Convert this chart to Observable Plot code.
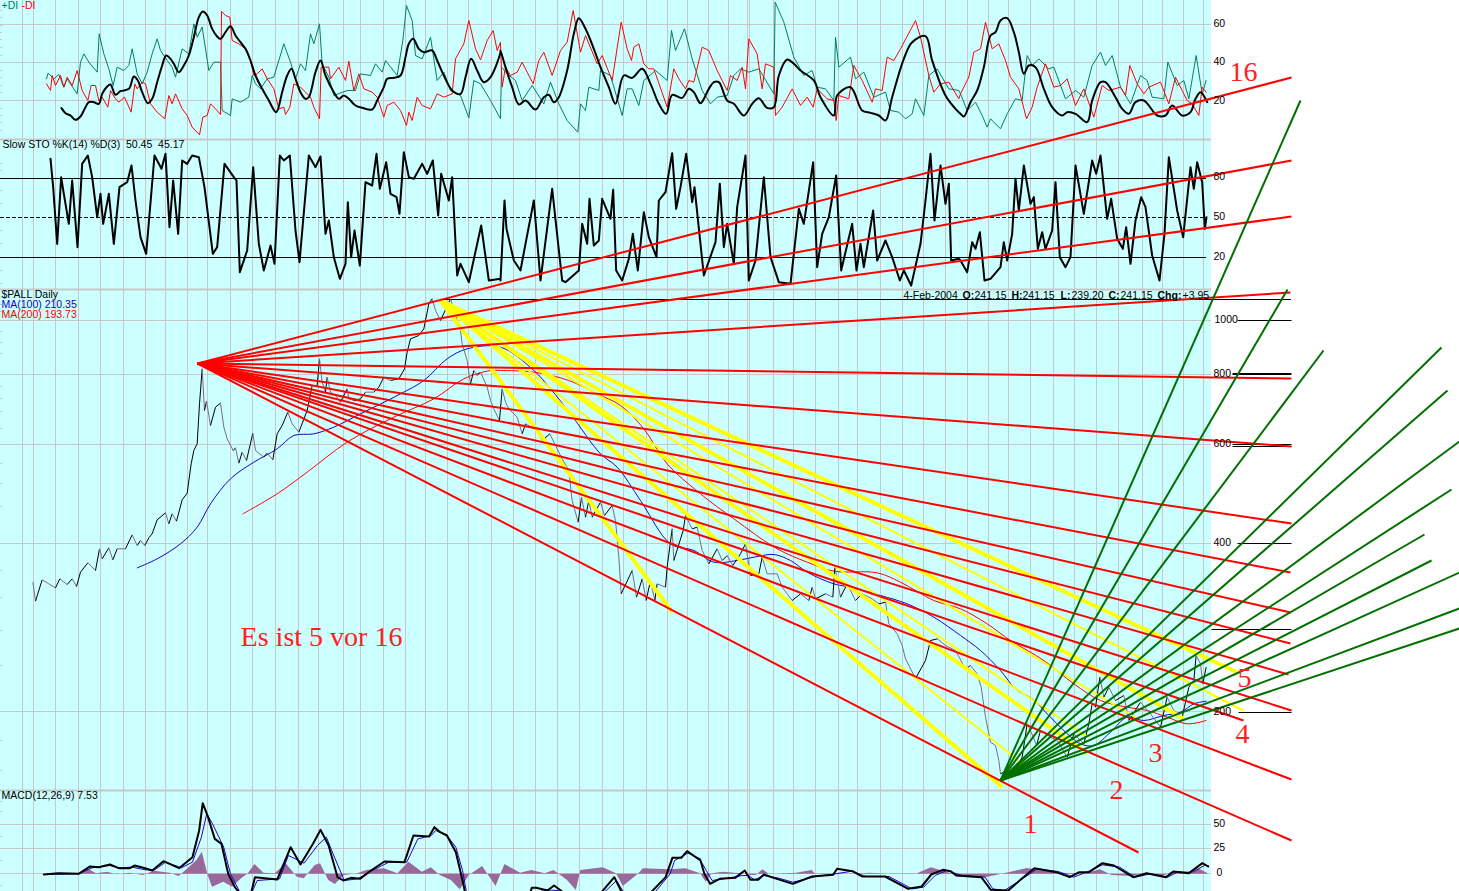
<!DOCTYPE html>
<html>
<head>
<meta charset="utf-8">
<script src="https://cdn.jsdelivr.net/npm/d3@7"></script>
<script src="https://cdn.jsdelivr.net/npm/@observablehq/plot@0.6"></script>
<style>html,body{margin:0;padding:0;background:#fff;overflow:hidden}</style>
</head>
<body>
<div id="chart"></div>
<script>
// Readings are made on 3x crops of the picture, grouped by crop.
const tile = (x0, y0, pts, sx = 3, sy = 3) => pts.map(([x, y]) => [x0 + x / sx, y0 + y / sy]);
const before = (pts, limit) => pts.filter(([x]) => x < limit);

const gridX = [22,33,55,78,100,123,145,165,187,207,230,252,275,298,318,343,360,383,405,425,447,468,491,513,535,557,579,602,623,646,667,687,708,728,747,749,773,793,815,838,857,880,902,923,945,967,988,1008,1030,1053,1074,1096,1118,1142,1162,1183,1203];
const gridY = [24,62,100,320,374,444,543,711,824,848,873];
const panelSeparators = [139,289,790];
const stoLevels = [178,257];
const stoMid = [217];
const priceTicks = [[1237,320],[1232,374],[1232,373],[1232,444],[1232,446],[1237,543],[1211,629],[1238,712]];
const leftMinorTicks = [10,17,25,32,39,47,55,62,70,77,85,92,100,108,115,122,130,163,170,178,190,203,217,230,243,257,270,283,304,311,320,331,342,353,374,386,398,411,428,444,463,483,506,543,570,597,630,665,711,740,770,801,811,824,836,848,860,873,885];

// ---- DI panel -----------------------------------------------------------
const adx1 = [[183,323],[195,338],[210,345],[225,358],[240,348],[255,320],[265,305],[280,305],[295,310],[305,280],[320,258],[330,252],[345,283],[360,272],[385,265],[400,228],[412,240],[425,275],[442,308],[455,295],[470,245],[485,195],[497,165],[510,175],[520,190],[535,215],[550,195],[565,165],[580,110],[595,50],[607,33],[620,45],[635,85],[650,108],[660,115],[675,95],[690,77],[705,105],[720,125],[735,145],[750,180],[765,225],[785,265],[805,300],[827,335],[845,275],[860,225],[873,205],[885,235],[900,275],[915,295],[925,290],[945,215],[960,180],[975,225],[1000,275],[1015,295],[1030,285],[1045,295],[1065,315],[1085,322],[1115,327],[1130,300],[1150,260],[1160,235],[1180,232],[1200,225],[1215,170],[1225,130],[1238,115],[1255,145],[1270,155],[1295,150],[1310,180],[1330,225],[1355,270],[1380,280],[1395,230],[1412,175],[1430,210],[1450,245],[1470,230],[1500,155]];
const adx2 = [[0,150],[15,200],[35,260],[55,312],[75,300],[105,327],[130,290],[145,283],[160,305],[175,290],[200,210],[220,100],[235,53],[255,85],[280,145],[300,200],[325,260],[345,310],[370,225],[395,232],[425,205],[450,250],[475,310],[497,340],[515,283],[545,292],[565,265],[580,275],[600,308],[625,265],[640,245],[655,245],[680,300],[700,310],[730,345],[755,310],[775,293],[800,322],[820,320],[835,225],[860,177],[880,190],[900,210],[940,240],[960,290],[1000,345],[1010,285],[1050,260],[1085,330],[1110,337],[1135,345],[1155,360],[1175,290],[1210,175],[1235,125],[1275,107],[1295,180],[1335,285],[1365,325]];
const adx3 = [[0,340],[10,348],[30,305],[50,270],[70,200],[90,105],[105,95],[120,60],[140,53],[160,95],[175,155],[190,220],[205,195],[225,200],[250,265],[275,320],[305,345],[320,335],[345,340],[380,365],[395,300],[420,245],[435,245],[465,290],[485,325],[505,340],[525,305],[550,300],[590,345],[615,345],[635,315],[665,345],[690,335],[705,295],[720,275],[740,305]];

const minusDi1 = [[138,250],[150,270],[155,225],[165,255],[180,225],[190,260],[200,230],[215,255],[230,210],[245,270],[262,300],[272,255],[285,255],[295,300],[305,290],[322,320],[330,270],[345,295],[355,305],[372,290],[392,335],[403,250],[410,265],[425,245],[435,250],[450,310],[470,335],[493,355],[505,285],[515,310],[525,280],[545,325],[560,345],[575,380],[597,403],[607,350],[620,345],[630,310],[645,325],[660,342],[663,32],[675,45],[688,50],[695,120],[715,130],[735,145],[750,180],[760,225],[770,220],[785,205],[800,235],[820,265],[835,325],[850,320],[855,342],[868,320],[880,250],[900,260],[915,275],[930,290],[940,320],[957,355],[962,200],[985,200],[990,235],[1015,200],[1035,240],[1045,182],[1060,270],[1075,220],[1090,265],[1115,275],[1130,290],[1150,350],[1160,315],[1180,305],[1200,330],[1218,375],[1225,335],[1235,360],[1250,290],[1265,315],[1290,325],[1310,280],[1330,290],[1355,280],[1365,175],[1390,130],[1405,60],[1425,145],[1440,178],[1460,120],[1478,90],[1490,150],[1500,125]];
const minusDi2 = [[0,130],[5,260],[15,200],[30,225],[50,215],[65,185],[80,215],[98,250],[115,180],[130,155],[155,225],[180,150],[200,125],[218,30],[240,155],[255,105],[290,190],[305,165],[335,240],[362,65],[380,145],[393,180],[400,140],[415,130],[430,190],[445,205],[460,205],[500,320],[520,205],[535,235],[555,265],[565,240],[580,245],[605,140],[625,150],[650,210],[680,270],[690,225],[710,240],[725,200],[735,265],[745,115],[770,160],[785,265],[795,190],[820,200],[825,345],[845,320],[875,265],[900,315],[920,290],[938,320],[950,265],[980,295],[1000,300],[1007,360],[1015,285],[1045,295],[1060,195],[1085,240],[1115,305],[1125,265],[1145,270],[1160,170],[1180,180],[1200,145],[1245,60],[1260,110],[1285,225],[1300,275],[1320,250],[1345,245],[1375,295]];
const minusDi3 = [[0,280],[25,230],[40,155],[60,145],[75,65],[95,145],[115,130],[135,180],[150,230],[175,265],[198,355],[215,320],[230,260],[255,190],[280,260],[300,255],[320,235],[345,315],[370,265],[400,350],[425,255],[445,270],[480,260],[495,285],[508,195],[530,250],[550,280],[565,260],[600,245],[625,310],[645,230],[665,270],[680,300],[695,310],[715,345],[725,260],[737,275]];

const plusDi1 = [[138,235],[143,218],[160,235],[175,222],[190,260],[200,235],[230,280],[240,185],[250,160],[265,185],[290,215],[296,100],[310,160],[325,205],[338,255],[350,200],[370,210],[385,195],[395,145],[410,220],[425,250],[440,215],[455,160],[470,115],[480,150],[500,180],[515,200],[525,230],[545,145],[565,160],[580,70],[590,110],[605,80],[625,210],[640,185],[660,185],[665,330],[690,345],[695,295],[720,305],[745,290],[755,225],[765,250],[780,265],[800,235],[820,230],[850,130],[870,185],[885,235],[900,190],[915,210],[930,100],[940,130],[957,70],[965,190],[985,230],[1000,285],[1040,270],[1065,270],[1080,220],[1110,225],[1125,190],[1145,215],[1155,180],[1190,225],[1207,120],[1218,15],[1235,60],[1245,165],[1265,175],[1290,110],[1310,240],[1330,215],[1350,270],[1380,285],[1405,352],[1420,240],[1440,250],[1470,300],[1500,355]];
const plusDi2 = [[0,350],[3,200],[20,220],[45,240],[65,300],[95,255],[130,310],[150,245],[175,310],[200,360],[232,395],[240,310],[255,330],[265,260],[295,270],[300,210],[330,225],[365,345],[380,265],[395,265],[415,315],[430,240],[465,210],[500,240],[513,90],[525,150],[552,85],[575,175],[605,270],[630,310],[650,290],[680,285],[700,225],[720,205],[745,215],[775,205],[820,280],[824,5],[850,65],[880,170],[910,225],[935,210],[950,260],[975,265],[1000,300],[1005,110],[1015,200],[1050,170],[1065,235],[1090,215],[1120,290],[1155,275],[1170,330],[1195,335],[1215,355],[1235,340],[1245,295],[1270,345],[1285,225],[1310,205],[1345,265],[1375,270]];
const plusDi3 = [[0,280],[20,330],[45,305],[65,345],[80,380],[90,355],[120,385],[140,340],[165,295],[185,300],[200,165],[215,195],[235,175],[265,205],[280,200],[315,295],[345,270],[370,290],[395,195],[420,155],[435,195],[455,165],[480,260],[510,310],[540,225],[560,240],[575,290],[610,295],[622,185],[650,255],[670,240],[685,295],[707,165],[725,280],[737,240]];

// ---- Stochastic panel ---------------------------------------------------
const sto1 = [[150,475],[158,560],[170,730],[182,530],[190,580],[205,670],[215,540],[231,740],[245,490],[262,465],[275,530],[290,650],[300,580],[308,670],[325,580],[340,730],[357,560],[380,545],[393,495],[405,600],[420,710],[437,760],[462,465],[483,505],[495,460],[507,680],[518,540],[533,700],[545,480],[560,490],[575,465],[595,470],[612,560],[637,760],[650,740],[672,490],[700,530],[708,540],[718,815],[740,750],[758,500],[775,730],[790,810],[810,735],[822,790],[838,465],[850,480],[868,465],[885,690],[897,785],[925,465],[945,500],[960,468],[975,700],[985,660],[1000,770],[1018,835],[1035,790],[1042,605],[1052,770],[1062,690],[1078,795],[1095,545],[1115,555],[1128,460],[1138,565],[1157,485],[1170,580],[1188,590],[1197,640],[1210,455],[1225,530],[1240,535],[1265,490],[1280,520],[1297,480],[1313,645],[1322,520],[1345,600],[1355,530],[1370,825],[1380,790],[1405,845],[1442,675],[1465,840],[1500,835]];
const sto2 = [[0,840],[12,600],[18,685],[40,780],[60,810],[75,730],[100,600],[120,840],[155,565],[185,840],[195,845],[235,810],[245,670],[260,730],[267,595],[280,735],[295,720],[305,595],[330,655],[338,568],[347,810],[365,840],[385,775],[397,700],[412,810],[430,635],[445,710],[468,770],[475,600],[495,575],[515,458],[527,625],[540,560],[557,460],[575,605],[582,560],[610,825],[645,725],[658,550],[670,740],[680,670],[700,790],[710,620],[735,465],[745,840],[765,780],[790,530],[810,770],[835,845],[870,850],[895,625],[910,670],[938,485],[950,800],[965,700],[985,650],[1007,525],[1022,810],[1055,670],[1068,810],[1080,730],[1090,800],[1118,630],[1130,780],[1155,720],[1175,770],[1198,840],[1210,810],[1232,855],[1260,730],[1275,600],[1290,460],[1302,660],[1320,495],[1335,610],[1345,550],[1352,780],[1375,775]];
const sto3 = [[0,780],[20,815],[35,725],[45,745],[58,695],[72,840],[90,835],[120,800],[130,725],[140,780],[155,700],[165,535],[175,630],[190,495],[210,610],[220,590],[232,745],[245,695],[255,745],[275,690],[285,545],[298,770],[315,800],[330,770],[345,495],[370,640],[395,480],[407,520],[420,465],[440,655],[452,595],[470,715],[487,745],[497,680],[510,790],[525,660],[542,590],[555,620],[575,765],[597,840],[612,700],[625,470],[650,630],[668,710],[690,500],[700,565],[710,485],[725,545],[733,685],[738,650]];

// ---- Price panel --------------------------------------------------------
const price1 = [[97,755],[105,812],[125,748],[145,760],[165,772],[178,745],[200,762],[215,745],[228,768],[240,725],[262,697],[285,720],[297,655],[305,685],[325,652],[337,688],[350,655],[375,655],[395,613],[410,645],[420,630],[433,645],[445,622],[455,610],[470,568],[495,547],[505,580],[515,550],[528,572],[545,508],[560,488],[572,400],[580,360],[590,340],[597,220],[605,115],[612,240],[618,212],[630,285],[645,230],[660,218],[670,290],[680,325],[698,360],[705,352],[715,398],[725,365],[738,390],[757,308],[765,360],[790,380],[800,368],[817,388],[830,310],[845,285],[862,245],[875,280],[895,305],[920,240],[935,165],[950,165],[957,85],[965,155],[975,185],[980,140],[990,185],[1005,195],[1020,215],[1040,175],[1045,205],[1060,210],[1080,205],[1095,185],[1120,185],[1135,170],[1150,140],[1170,150],[1195,145],[1212,115],[1220,65],[1230,25],[1255,15],[1270,-5],[1285,-80],[1295,-95],[1305,-60],[1320,-30],[1350,-95],[1380,0],[1385,40],[1400,90],[1410,160],[1420,120],[1430,135],[1440,125],[1460,170],[1470,210],[1480,235],[1497,270]];
const price2 = [[5,175],[15,215],[25,235],[50,260],[65,310],[75,280],[110,300],[125,330],[148,310],[165,345],[185,385],[205,420],[215,510],[233,575],[243,500],[255,560],[265,510],[275,560],[300,515],[312,555],[335,525],[345,570],[355,680],[362,790],[395,720],[408,800],[425,745],[437,810],[450,750],[463,810],[470,760],[495,770],[500,710],[515,595],[520,690],[548,600],[555,555],[575,595],[590,590],[605,660],[625,700],[650,655],[665,690],[680,675],[697,705],[720,670],[735,640],[750,735],[775,730],[785,680],[800,730],[830,730],[845,770],[875,810],[900,790],[925,810],[935,770],[945,805],[975,790],[997,800],[1003,710],[1020,800],[1040,760],[1065,810],[1085,790],[1115,805],[1135,820],[1155,815],[1165,880],[1190,910],[1205,945],[1215,985],[1245,1044],[1275,990],[1290,930],[1311,925],[1335,945],[1365,960]];
const price3 = [[15,325],[30,315],[50,340],[62,380],[75,470],[90,545],[105,555],[115,600],[120,640],[130,635],[150,640],[170,620],[185,590],[200,490],[210,510],[228,555],[240,510],[270,530],[290,540],[320,590],[340,520],[370,550],[385,490],[395,430],[405,440],[418,350],[430,410],[445,380],[465,420],[490,405],[505,480],[540,425],[570,460],[600,500],[620,410],[640,450],[665,470],[685,380],[700,360],[707,285],[720,310],[727,370],[737,320]];

const ma100a = [[410,712],[470,685],[540,640],[590,590],[630,520],[690,445],[760,395],[830,355],[880,315],[940,310],[1000,290],[1080,250],[1200,190],[1270,150],[1340,85],[1400,55],[1500,50]];
const ma100b = [[100,120],[150,175],[210,250],[300,370],[350,410],[420,510],[510,640],[580,660],[640,695],[710,690],[770,678],[820,672],[870,690],[920,725],[1000,760],[1050,770],[1140,795],[1220,820],[1300,860]];
const ma100c = [[0,225],[60,270],[120,330],[165,385],[215,415],[265,465],[310,510],[360,550],[400,555],[450,515],[500,470],[550,480],[610,465],[660,455],[700,430],[737,422]];

const ma200a = [[727,550],[830,490],[920,425],[1040,335],[1180,260],[1300,205],[1390,145],[1470,120],[1500,120]];
const ma200b = [[100,125],[205,150],[290,190],[360,225],[430,295],[500,400],[600,490],[700,565],[830,655],[920,695],[1000,722],[1130,727],[1200,755],[1300,810]];
const ma200c = [[0,145],[80,190],[150,240],[250,300],[340,370],[420,420],[500,440],[560,450],[620,470],[680,490],[737,480]];

// ---- Hand-drawn fans ----------------------------------------------------
const redApex = [197,363];
const redEnds = [[1291,77],[1291,160],[1291,216],[1290,292],[1291,378],[1291,446],[1291,523],[1290,572],[1290,612],[1290,643],[1288,674],[1291,710],[1243,720],[1291,779],[1291,840],[1138,852]];
const yellowApex = [440,300];
const yellowThickEnds = [[672,612],[1002,787],[1087,753],[1183,718],[1237,672]];
const yellowThinEnds = [[1022,763],[1088,737],[1135,717],[1243,710]];
const greenApex = [1000,780];
const greenEnds = [[1300,100],[1287,289],[1323,350],[1441,347],[1447,390],[1459,441],[1451,489],[1424,534],[1431,560],[1459,572],[1459,608],[1459,628]];

// ---- MACD panel ---------------------------------------------------------
const macd1 = [[97,282],[130,278],[175,280],[200,258],[220,260],[245,252],[265,263],[290,263],[300,255],[320,262],[340,270],[365,242],[400,263],[430,230],[445,150],[453,68],[465,110],[480,175],[495,190],[510,280],[525,320],[540,345],[560,345],[570,290],[620,297],[650,200],[672,252],[700,190],[717,148],[735,195],[755,290],[768,300],[785,292],[805,295],[830,270],[860,243],[905,245],[925,165],[960,168],[972,140],[985,155],[1000,165],[1020,215],[1035,300],[1042,345],[1185,345],[1190,322],[1200,322],[1225,330],[1240,315],[1270,345],[1340,345],[1375,290],[1395,345],[1450,345],[1490,290],[1505,232],[1525,232],[1538,212],[1568,240]];
const macd2 = [[0,240],[10,280],[25,310],[50,295],[90,292],[115,270],[130,298],[150,298],[165,282],[190,292],[240,310],[290,288],[345,283],[355,265],[395,272],[420,288],[480,288],[540,325],[575,318],[600,282],[630,268],[650,272],[665,285],[730,290],[755,328],[800,330],[835,295],[868,263],[925,275],[960,290],[985,275],[1010,275],[1045,248],[1075,255],[1125,290],[1160,278],[1210,290],[1230,273],[1270,278],[1305,248],[1320,258]];
const signal1 = [[97,282],[175,280],[205,262],[245,255],[265,262],[295,260],[325,268],[345,268],[370,245],[405,262],[430,245],[450,170],[462,100],[475,130],[500,200],[515,280],[540,345],[560,345],[575,300],[625,295],[645,225],[680,248],[710,195],[730,170],[745,220],[770,300],[800,295],[840,265],[870,245],[910,245],[935,175],[965,165],[975,150],[1000,165],[1020,200],[1035,270],[1045,345],[1200,345],[1215,328],[1250,330],[1275,345],[1345,345],[1380,300],[1400,345],[1460,345],[1500,280],[1510,240],[1540,218],[1568,235]];
const signal2 = [[0,240],[15,270],[30,300],[60,295],[110,285],[125,285],[140,298],[165,285],[200,292],[240,305],[300,288],[350,280],[395,272],[430,288],[490,288],[550,325],[580,320],[610,285],[640,270],[680,285],[740,290],[760,325],[790,330],[850,285],[875,265],[930,273],[970,290],[1010,272],[1045,253],[1090,260],[1130,290],[1170,280],[1215,290],[1240,275],[1280,275],[1310,255],[1320,255]];
const hist1 = [[180,280],[195,265],[215,280],[240,275],[260,283],[290,278],[320,285],[345,272],[380,278],[400,288],[420,265],[440,240],[452,215],[465,285],[475,320],[500,305],[520,320],[540,295],[555,280],[570,252],[590,278],[615,280],[640,250],[665,290],[680,295],[705,255],[717,250],[735,300],[750,312],[770,285],[800,280],[820,270],[860,265],[890,280],[915,245],[945,275],[965,262],[985,285],[1010,300],[1030,328],[1050,285],[1080,258],[1110,318],[1130,252],[1165,278],[1190,270],[1220,280],[1240,270],[1270,300],[1290,330],[1300,270],[1350,262],[1380,280],[1395,318],[1430,280],[1440,265],[1500,268],[1535,265],[1568,280]];
const hist2 = [[0,280],[15,305],[30,280],[60,275],[90,278],[110,280],[130,285],[145,285],[162,268],[180,282],[250,278],[290,270],[300,282],[400,282],[440,278],[500,282],[560,282],[600,262],[640,275],[680,290],[740,292],[790,280],[850,264],[870,268],[930,278],[1000,280],[1040,268],[1070,285],[1120,288],[1160,278],[1200,290],[1230,272],[1280,278],[1295,265],[1320,280]];
const macdZero = 873.7;

// ---- Text ---------------------------------------------------------------
const plainLabels = [
  {x:1,y:5,text:"+DI",fill:"#008060"},{x:21,y:5,text:"-DI",fill:"#ff0000"},
  {x:2,y:144,text:"Slow STO %K(14) %D(3)  50.45  45.17",fill:"#000"},
  {x:1,y:294,text:"$PALL Daily",fill:"#000"},
  {x:1,y:304,text:"MA(100) 210.35",fill:"#2000d0"},
  {x:1,y:314,text:"MA(200) 193.73",fill:"#ff0000"},
  {x:1,y:795,text:"MACD(12,26,9) 7.53",fill:"#000"},
  {x:903,y:295,text:"4-Feb-2004",fill:"#000"},
  {x:974,y:295,text:"241.15",fill:"#000"},{x:1022,y:295,text:"241.15",fill:"#000"},
  {x:1071,y:295,text:"239.20",fill:"#000"},{x:1120,y:295,text:"241.15",fill:"#000"},
  {x:1182,y:295,text:"+3.95",fill:"#000"}
];
const boldLabels = [
  {x:962,y:295,text:"O:"},{x:1011,y:295,text:"H:"},{x:1060,y:295,text:"L:"},{x:1108,y:295,text:"C:"},{x:1157,y:295,text:"Chg:"}
];
const axisLabels = [
  {x:1213,y:23,text:"60"},{x:1213,y:61,text:"40"},{x:1213,y:100,text:"20"},
  {x:1213,y:176,text:"80"},{x:1213,y:216,text:"50"},{x:1213,y:256,text:"20"},
  {x:1214,y:319,text:"1000"},{x:1213,y:373,text:"800"},{x:1213,y:443,text:"600"},{x:1213,y:542,text:"400"},{x:1213,y:711,text:"200"},
  {x:1213,y:823,text:"50"},{x:1213,y:847,text:"25"},{x:1216,y:872,text:"0"}
];
const scriptLabels = [
  {x:321,y:637,text:"Es ist 5 vor 16"},
  {x:1243,y:72,text:"16"},{x:1030,y:824,text:"1"},{x:1116,y:790,text:"2"},
  {x:1155,y:753,text:"3"},{x:1242,y:734,text:"4"},{x:1244,y:678,text:"5"}
];

// ---- Assemble -----------------------------------------------------------
const adx = [...tile(0,0,adx1),...tile(500,0,adx2),...tile(960,0,adx3)];
const minusDi = [...tile(0,0,minusDi1),...tile(500,0,minusDi2),...tile(960,0,minusDi3)];
const plusDi = [...tile(0,0,plusDi1),...tile(500,0,plusDi2),...tile(960,0,plusDi3)];
const sto = [...tile(0,0,sto1),...tile(500,0,sto2),...tile(960,0,sto3)];
const price = [...tile(0,330,price1),...tile(500,330,price2),...tile(960,560,price3)];
const ma100 = [...tile(0,330,ma100a),...tile(500,330,ma100b),...tile(960,560,ma100c)];
const ma200 = [...tile(0,330,ma200a),...tile(500,330,ma200b),...tile(960,560,ma200c)];
const macd = [...tile(0,780,macd1,2.24),...tile(700,780,macd2,2.6)];
const signal = [...tile(0,780,signal1,2.24),...tile(700,780,signal2,2.6)];
const hist = [...tile(0,780,hist1,2.24),...tile(700,780,hist2,2.6)];
const priceSegs = price.slice(1).map((p,i)=>({a:price[i],b:p,up:p[1]<price[i][1]}));
const fan = (apex, ends, opts) => Plot.link(ends,{x1:()=>apex[0],y1:()=>apex[1],x2:d=>d[0],y2:d=>d[1],...opts});
const FONT = "'Liberation Sans',Arial,sans-serif";
const grid = "#c8c8c8";

const chart = Plot.plot({
  width:1459,height:891,margin:0,
  x:{domain:[0,1459],axis:null},
  y:{domain:[891,0],axis:null},
  style:{background:"#fff",fontFamily:FONT},
  marks:[
    Plot.rect([{}],{x1:()=>0,x2:()=>1211,y1:()=>0,y2:()=>891,fill:"#ccffff"}),
    Plot.ruleX(gridX,{y1:0,y2:891,stroke:grid,strokeWidth:1}),
    Plot.ruleY(gridY,{x1:0,x2:1211,stroke:grid,strokeWidth:1}),
    Plot.ruleY(panelSeparators,{x1:0,x2:1211,stroke:grid,strokeWidth:2}),
    Plot.ruleY(leftMinorTicks,{x1:0,x2:2,stroke:grid,strokeWidth:1}),
    Plot.ruleY(stoLevels,{x1:0,x2:1206,stroke:"#000",strokeWidth:1}),
    Plot.ruleY(stoMid,{x1:0,x2:1206,stroke:"#000",strokeWidth:1,strokeDasharray:"4,2"}),
    Plot.ruleY([299],{x1:440,x2:1291,stroke:"#000",strokeWidth:1}),
    Plot.link(priceTicks,{x1:d=>d[0],x2:()=>1291,y1:d=>d[1],y2:d=>d[1],stroke:"#000",strokeWidth:1}),

    Plot.line(plusDi,{stroke:"#008060",strokeWidth:1}),
    Plot.line(minusDi,{stroke:"#ff0000",strokeWidth:1}),
    Plot.line(adx,{stroke:"#000",strokeWidth:2,curve:"catmull-rom"}),
    Plot.line(sto,{stroke:"#000",strokeWidth:2}),

    Plot.line(ma100,{stroke:"#2000d0",strokeWidth:1,curve:"catmull-rom"}),
    Plot.line(ma200,{stroke:"#ff0000",strokeWidth:1,curve:"catmull-rom"}),
    Plot.link(priceSegs,{x1:d=>d.a[0],y1:d=>d.a[1],x2:d=>d.b[0],y2:d=>d.b[1],stroke:d=>d.up?"#000":"#80688c",strokeWidth:1}),

    Plot.areaY(hist,{x:d=>d[0],y1:()=>macdZero,y2:d=>d[1],fill:"#99699c",clip:true}),
    Plot.line(signal,{stroke:"#2000d0",strokeWidth:1,clip:true}),
    Plot.line(macd,{stroke:"#000",strokeWidth:2,clip:true}),

    fan(yellowApex,yellowThickEnds,{stroke:"#ffff00",strokeWidth:4}),
    fan(yellowApex,yellowThinEnds,{stroke:"#ffff00",strokeWidth:2}),
    fan(redApex,redEnds,{stroke:"#ff0000",strokeWidth:2}),
    fan(greenApex,greenEnds,{stroke:"#007000",strokeWidth:2}),

    Plot.text(plainLabels,{x:"x",y:"y",text:"text",fill:"fill",textAnchor:"start",fontSize:10.5}),
    Plot.text(boldLabels,{x:"x",y:"y",text:"text",fill:"#000",textAnchor:"start",fontSize:10.5,fontWeight:"bold"}),
    Plot.text(axisLabels,{x:"x",y:"y",text:"text",fill:"#000",textAnchor:"start",fontSize:10.5}),
    Plot.text(scriptLabels,{x:"x",y:"y",text:"text",fill:"#ff2020",fontSize:28,fontFamily:"'Liberation Serif',serif"})
  ]
});
document.getElementById("chart").appendChild(chart);
</script>
</body>
</html>
